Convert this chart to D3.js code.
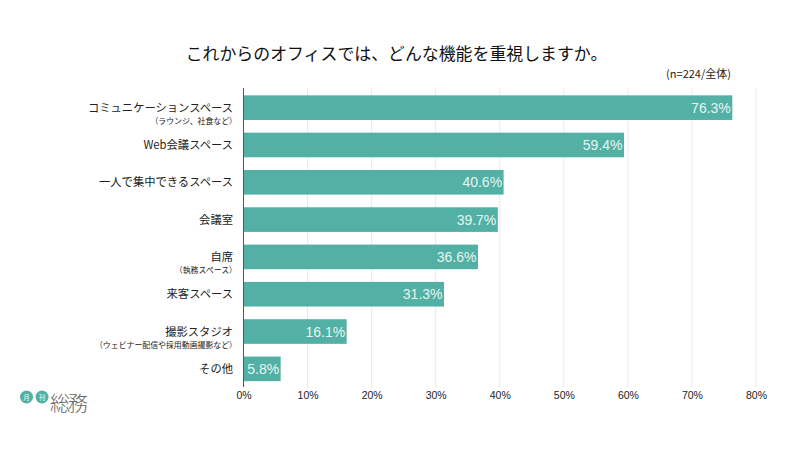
<!DOCTYPE html>
<html>
<head>
<meta charset="utf-8">
<script src="https://cdn.jsdelivr.net/npm/d3@7/dist/d3.min.js"></script>
<style>
  html, body { margin: 0; background: #fff; }
  svg { display: block; }
  text { font-family: "Noto Sans CJK JP", "Noto Sans", sans-serif; }
</style>
</head>
<body>
<svg id="chart"></svg>
<script>
const categories = [
  'コミュニケーションスペース',
  'Web会議スペース',
  '一人で集中できるスペース',
  '会議室',
  '自席',
  '来客スペース',
  '撮影スタジオ',
  'その他',
];
const subLabels = [
  '（ラウンジ、社食など）',
  '',
  '',
  '',
  '（執務スペース）',
  '',
  '（ウェビナー配信や採用動画撮影など）',
  '',
];
const values = [76.3, 59.4, 40.6, 39.7, 36.6, 31.3, 16.1, 5.8];
const xTicks = [0, 10, 20, 30, 40, 50, 60, 70, 80];

const width = 800;
const height = 450;
const teal = '#52b0a4';
const ink = '#222';
const latin = '"Liberation Sans", "Noto Sans CJK JP", sans-serif';

const svg = d3.select('#chart').attr('width', width).attr('height', height);

const x = d3.scaleLinear().domain([0, 80]).range([243.5, 756]);
const y = d3.scaleBand()
    .domain(categories)
    .range([89, 387.5])
    .paddingInner(0.34)
    .paddingOuter(0.17);

// title
svg.append('text')
    .attr('x', 396.5)
    .attr('y', 60)
    .attr('text-anchor', 'middle')
    .attr('font-size', 16.9)
    .attr('fill', '#111')
    .text('これからのオフィスでは、どんな機能を重視しますか。');

svg.append('text')
    .attr('x', 731)
    .attr('y', 78)
    .attr('text-anchor', 'end')
    .attr('font-size', 11)
    .attr('fill', ink)
    .text('(n=224/全体)');

// grid
svg.append('g')
    .selectAll('line')
    .data(xTicks.slice(1))
    .join('line')
    .attr('x1', (d) => x(d))
    .attr('x2', (d) => x(d))
    .attr('y1', 88)
    .attr('y2', 387)
    .attr('stroke', '#e8e8e8')
    .attr('stroke-width', 1);

// bars
svg.append('g')
    .selectAll('rect')
    .data(values)
    .join('rect')
    .attr('x', x(0))
    .attr('y', (d, i) => y(categories[i]))
    .attr('width', (d) => x(d) - x(0))
    .attr('height', y.bandwidth())
    .attr('fill', teal);

// value labels
svg.append('g')
    .selectAll('text')
    .data(values)
    .join('text')
    .attr('x', (d) => x(d) - 1.5)
    .attr('y', (d, i) => y(categories[i]) + y.bandwidth() / 2 + 5)
    .attr('text-anchor', 'end')
    .attr('font-size', 14)
    .attr('fill', '#e6f6f2')
    .style('font-family', latin)
    .text((d) => d.toFixed(1) + '%');

// x axis
const xAxis = d3.axisBottom(x)
    .tickValues(xTicks)
    .tickFormat((d) => d + '%')
    .tickSize(0)
    .tickPadding(0);
const xAxisG = svg.append('g')
    .attr('transform', 'translate(0,392)')
    .call(xAxis);
xAxisG.select('.domain').remove();
xAxisG.selectAll('text')
    .attr('y', 0)
    .attr('font-size', 10.5)
    .attr('fill', ink)
    .style('font-family', latin);

// zero line
svg.append('line')
    .attr('x1', x(0))
    .attr('x2', x(0))
    .attr('y1', 88)
    .attr('y2', 387)
    .attr('stroke', '#555')
    .attr('stroke-width', 1);

// category labels
const labels = svg.append('g')
    .selectAll('g')
    .data(categories)
    .join('g')
    .attr('transform', (d) => `translate(233,${y(d) + y.bandwidth() / 2})`);

labels.append('text')
    .attr('text-anchor', 'end')
    .attr('y', 4)
    .attr('font-size', 11.3)
    .attr('fill', ink)
    .text((d) => d);

labels.append('text')
    .attr('x', 4)
    .attr('y', 16)
    .attr('text-anchor', 'end')
    .attr('font-size', 7.9)
    .attr('fill', ink)
    .text((d, i) => subLabels[i]);

// logo
const logo = svg.append('g');
const logoBadges = ['月', '刊'];
logo.selectAll('circle')
    .data(logoBadges)
    .join('circle')
    .attr('cx', (d, i) => 26.5 + i * 15.5)
    .attr('cy', 397)
    .attr('r', 6.5)
    .attr('fill', teal);
logo.selectAll('text.badge')
    .data(logoBadges)
    .join('text')
    .attr('class', 'badge')
    .attr('x', (d, i) => 26.5 + i * 15.5)
    .attr('y', 399.5)
    .attr('text-anchor', 'middle')
    .attr('font-size', 6.5)
    .attr('fill', '#fff')
    .text((d) => d);
logo.append('text')
    .attr('x', 50)
    .attr('y', 411)
    .attr('font-size', 20)
    .attr('font-weight', 300)
    .attr('textLength', 38)
    .attr('fill', '#666')
    .text('総務');
</script>
</body>
</html>
